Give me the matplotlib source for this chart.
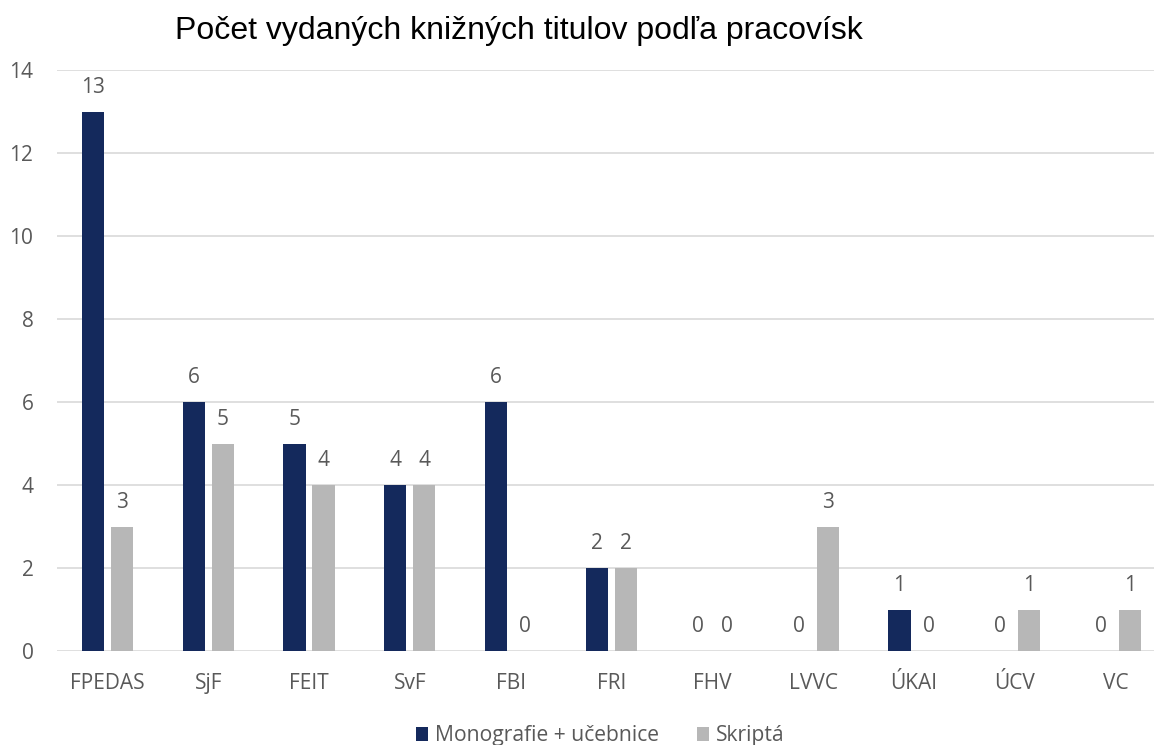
import matplotlib
matplotlib.use("Agg")
import matplotlib.pyplot as plt
import numpy as np

categories = ["FPEDAS", "SjF", "FEIT", "SvF", "FBI", "FRI", "FHV", "LVVC", "ÚKAI", "ÚCV", "VC"]
monografie = [13, 6, 5, 4, 6, 2, 0, 0, 1, 0, 0]
skripta = [3, 5, 4, 4, 0, 2, 0, 3, 0, 1, 1]
series_names = ["Monografie + učebnice", "Skriptá"]
title = "Počet vydaných knižných titulov podľa pracovísk"

navy = "#14295C"
gray = "#B7B7B7"
txt = "#595959"

fig = plt.figure(figsize=(11.54, 7.45), dpi=100)
W, H = 1154, 745
left, right, bottom, top = 57, 1166, 651, 70
ax = fig.add_axes([left / W, 1 - bottom / H, (right - left) / W, (bottom - top) / H])

x = np.arange(len(categories))
bw = 0.22
off = 0.144
b1 = ax.bar(x - off, monografie, bw, color=navy, label=series_names[0], zorder=3)
b2 = ax.bar(x + off, skripta, bw, color=gray, label=series_names[1], zorder=3)

font = "Open Sans"
fs = 15
for bars, vals in ((b1, monografie), (b2, skripta)):
    for r, v in zip(bars, vals):
        ax.annotate(str(v), (r.get_x() + r.get_width() / 2, v), xytext=(0, 17.5),
                    textcoords="offset points", ha="center", va="center",
                    fontsize=fs, color=txt, family=font)

ax.set_xlim(-0.5, len(categories) - 0.5)
ax.set_ylim(0, 14)
ax.set_yticks(range(0, 15, 2))
ax.set_xticks(x)
ax.set_xticklabels(categories, family=font, fontsize=fs, color=txt)
for lab in ax.get_yticklabels():
    lab.set_family(font)
    lab.set_fontsize(fs)
    lab.set_color(txt)
ax.tick_params(axis="both", length=0)
ax.tick_params(axis="y", pad=17)
ax.tick_params(axis="x", pad=16)
ax.grid(axis="y", color="#D9D9D9", linewidth=1.2, zorder=0)
for s in ax.spines.values():
    s.set_visible(False)

fig.text(175 / W, 1 - 31 / H, title, ha="left", va="center", fontsize=23,
         family="Liberation Sans", color="black")

leg = fig.legend(handles=[b1, b2], labels=series_names, loc="center",
                 bbox_to_anchor=(600 / W, 1 - 736 / H), ncol=2, frameon=False,
                 prop={"family": font, "size": 15.2}, handlelength=0.6, handleheight=0.6,
                 handletextpad=0.3, columnspacing=1.8)
for t in leg.get_texts():
    t.set_color(txt)

fig.savefig("out.png", dpi=100)
